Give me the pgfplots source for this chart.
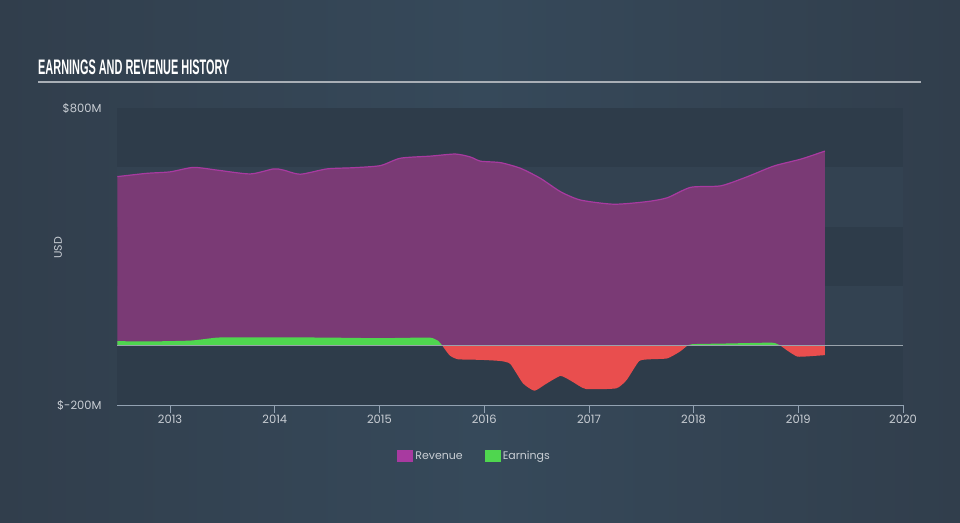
\documentclass[border=0pt]{standalone}
\usepackage{pgfplots}
\pgfplotsset{compat=1.18}
\usepackage{fontspec}
\setmainfont{Poppins}
\newfontfamily\titlefont{Liberation Sans}
\definecolor{bgL}{HTML}{313E4C}
\definecolor{bgM}{HTML}{36495A}
\definecolor{plotBg}{HTML}{2E3C4A}
\definecolor{bandL}{HTML}{334251}
\definecolor{ruleC}{HTML}{A9AFB6}
\definecolor{labC}{HTML}{C9CED4}
\definecolor{axC}{HTML}{93A2B2}
\definecolor{zeroC}{HTML}{9AA3AC}
\definecolor{revFill}{HTML}{7A3A75}
\definecolor{revLine}{HTML}{A83AA0}
\definecolor{earnG}{HTML}{4FD64F}
\definecolor{earnR}{HTML}{E94E4E}
\begin{document}
\begin{tikzpicture}[x=1pt,y=1pt]
\useasboundingbox (0,0) rectangle (960,-522);
\shade[left color=bgL, right color=bgL, middle color=bgM] (0,0) rectangle (960,-522);
\node[anchor=west, text=white, inner sep=0pt, font=\titlefont\bfseries\fontsize{21}{21}\selectfont] at (38,-67.5) {\scalebox{0.52}[1]{EARNINGS AND REVENUE HISTORY}};
\draw[color=ruleC, line width=1.3pt] (38,-82) -- (921,-82);
\node[rotate=90, text=labC, inner sep=0pt, font=\fontsize{11}{11}\selectfont] at (58,-248) {USD};
\begin{axis}[
  at={(117pt,-108pt)}, anchor=north west,
  scale only axis, width=786pt, height=297pt,
  xmin=2012.493, xmax=2020, ymin=-200, ymax=800,
  axis background/.style={fill=plotBg},
  axis x line*=bottom, axis y line*=left,
  x axis line style={draw=axC, line width=1pt},
  y axis line style={draw=none},
  xtick={2013,2014,2015,2016,2017,2018,2019,2020},
  xticklabels={2013,2014,2015,2016,2017,2018,2019,2020},
  ytick={-200,800},
  yticklabels={\$-200M,\$800M},
  tick align=outside,
  xtick style={draw=axC, line width=0.8pt},
  major tick length=8pt,
  ytick style={draw=none},
  tick label style={text=labC, font=\fontsize{11.5}{12}\selectfont},
  xticklabel style={yshift=2pt},
  yticklabel style={anchor=east, xshift=-4pt},
  /pgf/number format/assume math mode=true,
  legend style={at={(0.455,-0.172)}, anchor=center, draw=none, fill=none,
    text=labC, font=\fontsize{11}{12}\selectfont, legend columns=2,
    /tikz/every even column/.append style={column sep=20pt}},
  clip=true,
]
% bands
\fill[bandL] (axis cs:2012.493,400) rectangle (axis cs:2020,600);
\fill[bandL] (axis cs:2012.493,0) rectangle (axis cs:2020,200);
% revenue area
\addplot[fill=revFill, draw=none, smooth, tension=0.4,
  legend image code/.code={\fill[revLine] (0pt,-6pt) rectangle (16pt,6pt);}]
  coordinates {
  (2012.496,569) (2012.777,580) (2013.0,585) (2013.223,600) (2013.447,591)
  (2013.765,578) (2013.988,595) (2014.083,591) (2014.243,577) (2014.499,595)
  (2014.753,599) (2015.008,606) (2015.20,631) (2015.486,638) (2015.725,645)
  (2015.869,635) (2015.965,621) (2016.156,616) (2016.347,597) (2016.538,563)
  (2016.73,518) (2016.921,490) (2017.24,476) (2017.559,485) (2017.75,498)
  (2017.973,533) (2018.26,538) (2018.515,569) (2018.769,605) (2019.025,628)
  (2019.254,655)
  } \closedcycle;
\addlegendentry{Revenue}
\addplot[draw=revLine, line width=1.2pt, smooth, tension=0.4, forget plot]
  coordinates {
  (2012.496,569) (2012.777,580) (2013.0,585) (2013.223,600) (2013.447,591)
  (2013.765,578) (2013.988,595) (2014.083,591) (2014.243,577) (2014.499,595)
  (2014.753,599) (2015.008,606) (2015.20,631) (2015.486,638) (2015.725,645)
  (2015.869,635) (2015.965,621) (2016.156,616) (2016.347,597) (2016.538,563)
  (2016.73,518) (2016.921,490) (2017.24,476) (2017.559,485) (2017.75,498)
  (2017.973,533) (2018.26,538) (2018.515,569) (2018.769,605) (2019.025,628)
  (2019.254,655)
  };
% earnings positive
\addplot[fill=earnG, draw=none, smooth, tension=0.3,
  legend image code/.code={\fill[earnG] (0pt,-6pt) rectangle (16pt,6pt);}]
  coordinates {
  (2012.496,15) (2012.8,14) (2013.2,17) (2013.45,27) (2013.7,28) (2014.0,28)
  (2014.5,27) (2015.0,25) (2015.4,27) (2015.50,26) (2015.56,16) (2015.60,0)
  } \closedcycle;
\addlegendentry{Earnings}
\addplot[fill=earnG, draw=none, smooth, tension=0.3, forget plot]
  coordinates {
  (2017.94,0) (2017.99,5) (2018.3,7) (2018.72,10) (2018.78,8) (2018.83,0)
  } \closedcycle;
% earnings negative
\addplot[fill=earnR, draw=none, smooth, tension=0.3, forget plot]
  coordinates {
  (2015.60,0) (2015.67,-33) (2015.75,-46) (2015.97,-48) (2016.16,-52)
  (2016.25,-62) (2016.37,-127) (2016.48,-152) (2016.59,-129) (2016.73,-102)
  (2016.84,-121) (2016.97,-146) (2017.26,-144) (2017.36,-116) (2017.48,-52)
  (2017.59,-46) (2017.75,-43) (2017.87,-20) (2017.94,0)
  } \closedcycle;
\addplot[fill=earnR, draw=none, smooth, tension=0.3, forget plot]
  coordinates {
  (2018.83,0) (2018.90,-18) (2018.99,-37) (2019.10,-36) (2019.254,-32)
  } \closedcycle;
\draw[zeroC, line width=1pt] (axis cs:2012.493,0) -- (axis cs:2020,0);
\end{axis}
\end{tikzpicture}
\end{document}
